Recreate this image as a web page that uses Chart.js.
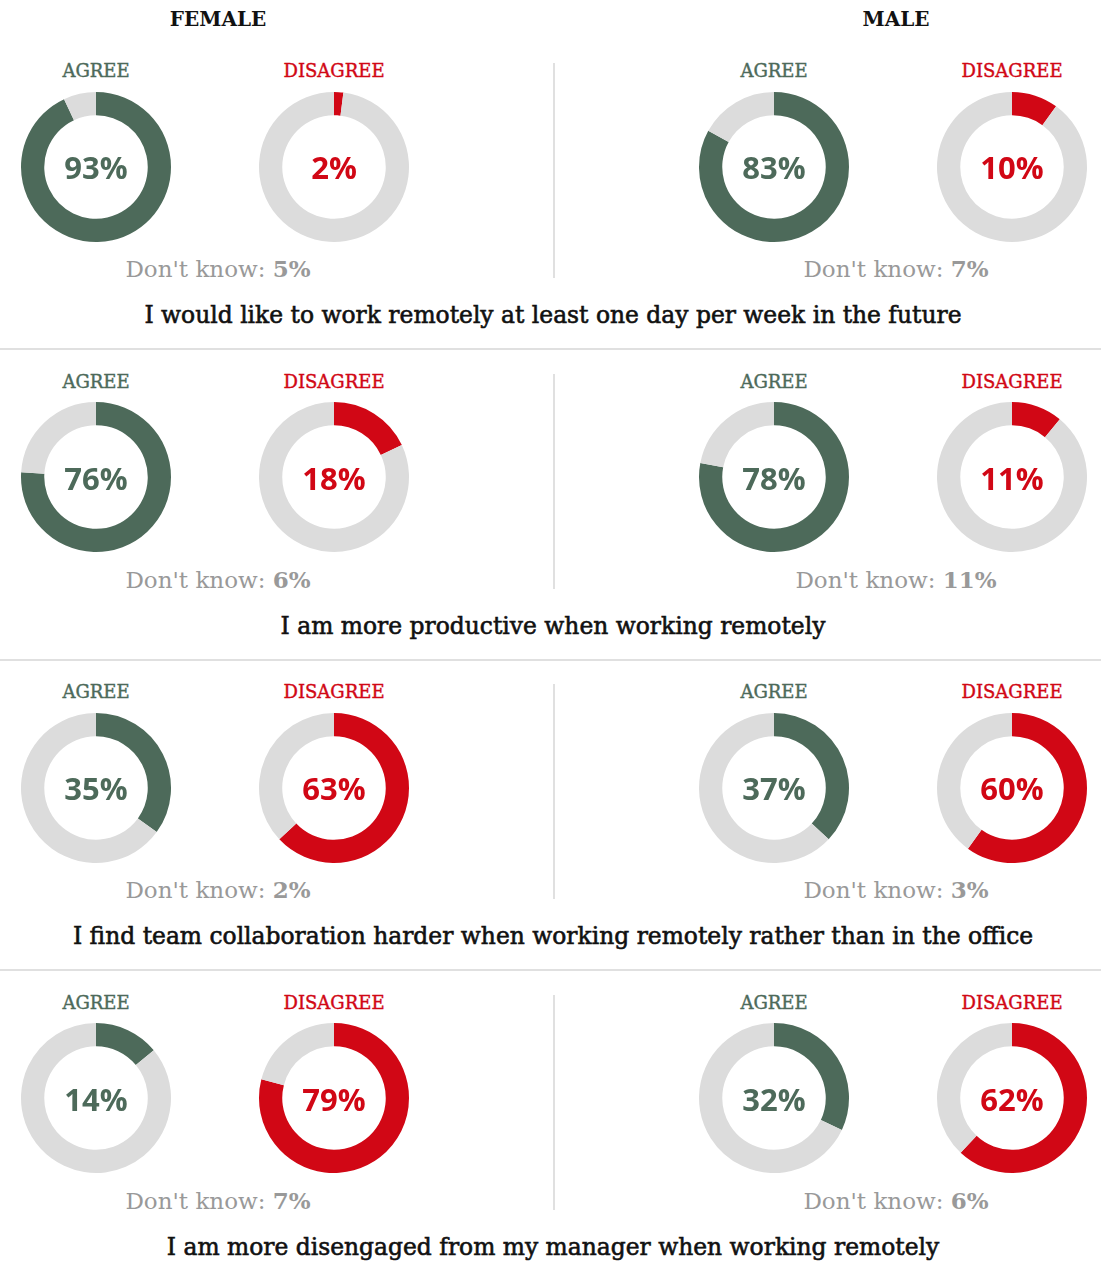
<!DOCTYPE html>
<html>
<head>
<meta charset="utf-8">
<script src="https://cdn.jsdelivr.net/npm/chart.js@4"></script>
<style>
  html, body { margin: 0; padding: 0; background: #fff; }
  #wrap { position: relative; width: 1101px; height: 1262px; overflow: hidden; font-family: "DejaVu Serif", serif; }
  .t { position: absolute; transform: translate(-50%, -50%); white-space: nowrap; line-height: 1; }
  .hdr { font-weight: bold; font-size: 20px; color: #111; }
  .lab { font-size: 18px; -webkit-text-stroke: 0.4px currentColor; }
  .pct { font-family: "Open Sans", sans-serif; font-weight: 700; font-size: 31px; }
  .dk { font-size: 23px; color: #999; }
  .dk b { font-weight: bold; }
  .stmt { font-size: 23.4px; font-weight: normal; color: #111; -webkit-text-stroke: 0.6px #111; }
  .hline { position: absolute; left: 0; width: 1101px; height: 2px; background: #e0e0e0; }
  .vline { position: absolute; width: 2px; background: #e0e0e0; }
  canvas { position: absolute; }
</style>
</head>
<body>
<div id="wrap"></div>
<script>
const groups = ["FEMALE", "MALE"];
const answerLabels = ["AGREE", "DISAGREE"];
const statements = [
  "I would like to work remotely at least one day per week in the future",
  "I am more productive when working remotely",
  "I find team collaboration harder when working remotely rather than in the office",
  "I am more disengaged from my manager when working remotely"
];
const femaleAgree = [93, 76, 35, 14];
const femaleDisagree = [2, 18, 63, 79];
const femaleDontKnow = [5, 6, 2, 7];
const maleAgree = [83, 78, 37, 32];
const maleDisagree = [10, 11, 60, 62];
const maleDontKnow = [7, 11, 3, 6];

const GREEN = "#4d6a5a";
const RED = "#d10715";
const GRAY = "#dcdcdc";

const wrap = document.getElementById("wrap");
function addText(cls, html, x, y, color) {
  const d = document.createElement("div");
  d.className = "t " + cls;
  d.innerHTML = html;
  d.style.left = x + "px";
  d.style.top = y + "px";
  if (color) d.style.color = color;
  wrap.appendChild(d);
}
function addDonut(cx, cy, value, color) {
  const c = document.createElement("canvas");
  c.width = 152; c.height = 152;
  c.style.left = (cx - 76) + "px";
  c.style.top = (cy - 76) + "px";
  c.style.width = "152px"; c.style.height = "152px";
  wrap.appendChild(c);
  new Chart(c, {
    type: "doughnut",
    data: {
      labels: ["value", "rest"],
      datasets: [{ data: [value, 100 - value], backgroundColor: [color, GRAY], borderWidth: 0, hoverOffset: 0 }]
    },
    options: {
      responsive: false, animation: false, cutout: "69%",
      layout: { padding: 1 },
      plugins: { legend: { display: false }, tooltip: { enabled: false } },
      events: []
    }
  });
}

const groupX = [218, 896];
const donutX = [[96, 334], [774, 1012]];
const pitch = 310.5;

groups.forEach((g, gi) => addText("hdr", g, groupX[gi], 19));

const data = [
  [femaleAgree, femaleDisagree, femaleDontKnow],
  [maleAgree, maleDisagree, maleDontKnow]
];

statements.forEach((s, r) => {
  const off = r * pitch;
  for (let gi = 0; gi < 2; gi++) {
    const [ag, dis, dk] = data[gi];
    const vals = [ag[r], dis[r]];
    const cols = [GREEN, RED];
    for (let k = 0; k < 2; k++) {
      const x = donutX[gi][k];
      addText("lab", answerLabels[k], x, 71 + off, cols[k]);
      addDonut(x, 166.5 + off, vals[k], cols[k]);
      addText("pct", vals[k] + "%", x, 167 + off, cols[k]);
    }
    addText("dk", "Don't know: <b>" + dk[r] + "%</b>", groupX[gi], 269 + off);
  }
  const v = document.createElement("div");
  v.className = "vline";
  v.style.left = "553px";
  v.style.top = (63 + off) + "px";
  v.style.height = "215px";
  wrap.appendChild(v);
  addText("stmt", s, 553, 316 + off);
  if (r < 3) {
    const h = document.createElement("div");
    h.className = "hline";
    h.style.top = (348 + off) + "px";
    wrap.appendChild(h);
  }
});
</script>
</body>
</html>
